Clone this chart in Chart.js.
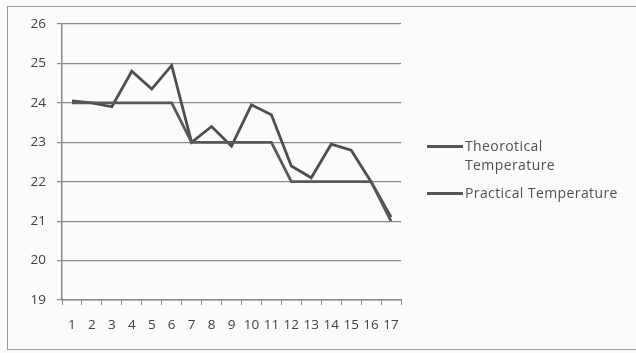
<!DOCTYPE html>
<html>
<head>
<meta charset="utf-8">
<script src="https://cdn.jsdelivr.net/npm/chart.js@4"></script>
<style>
  html,body{margin:0;padding:0;background:#fbfbfb;}
  #wrap{position:relative;width:636px;height:353px;overflow:hidden;}
  #frame{position:absolute;left:7px;top:6px;width:640px;height:344px;border:1.5px solid #9a9a9a;box-sizing:border-box;}
  canvas{position:absolute;left:0;top:0;}
  #legend{position:absolute;left:427px;top:136px;font-family:"Open Sans","Liberation Sans",sans-serif;font-size:14px;color:#505050;line-height:19px;letter-spacing:0.4px;}
  .item{position:relative;padding-left:38px;margin-bottom:9px;}
  .item span.sw{position:absolute;left:0;top:9px;width:36px;height:2.5px;background:#555;}
</style>
</head>
<body>
<div id="wrap">
  <div id="frame"></div>
  <canvas id="c" width="636" height="353"></canvas>
  <div id="legend">
    <div class="item"><span class="sw"></span>Theorotical<br>Temperature</div>
    <div class="item"><span class="sw"></span>Practical Temperature</div>
  </div>
</div>
<script>
const categories = ["1","2","3","4","5","6","7","8","9","10","11","12","13","14","15","16","17"];
const theoretical = [24,24,24,24,24,24,23,23,23,23,23,22,22,22,22,22,21];
const practical = [24.05,24.0,23.9,24.8,24.35,24.95,23.0,23.4,22.9,23.95,23.7,22.4,22.1,22.95,22.8,22.0,21.1];
const yTicks = [19,20,21,22,23,24,25,26];

const font = {family: '"Open Sans","Liberation Sans",sans-serif', size: 13.5, weight: '500'};
new Chart(document.getElementById('c'), {
  type: 'line',
  data: {
    labels: categories,
    datasets: [
      {label: 'Theorotical Temperature', data: theoretical, borderColor: '#585858', borderWidth: 2.8, pointRadius: 0, tension: 0, fill: false},
      {label: 'Practical Temperature', data: practical, borderColor: '#4e4e4e', borderWidth: 2.8, pointRadius: 0, tension: 0, fill: false}
    ]
  },
  options: {
    responsive: false,
    animation: false,
    events: [],
    layout: {padding: {left: 0, right: 235, top: 24, bottom: 0}},
    plugins: {legend: {display: false}, tooltip: {enabled: false}},
    scales: {
      x: {
        offset: true,
        grid: {offset: true, drawOnChartArea: false, drawTicks: true, tickLength: 5, color: '#8a8a8a', lineWidth: 1},
        border: {display: true, color: '#8a8a8a', width: 1.5},
        ticks: {color: '#404040', font: font, maxRotation: 0, autoSkip: false, padding: 12},
        afterFit: s => { s.height = 53; }
      },
      y: {
        min: 19, max: 26,
        afterBuildTicks: s => { s.ticks = yTicks.map(v => ({value: v})); },
        grid: {color: '#8a8a8a', lineWidth: 1.2, tickLength: 5},
        border: {display: true, color: '#8a8a8a', width: 1.5},
        ticks: {color: '#404040', font: font, padding: 11},
        afterFit: s => { s.width = 62; }
      }
    }
  }
});
</script>
</body>
</html>
